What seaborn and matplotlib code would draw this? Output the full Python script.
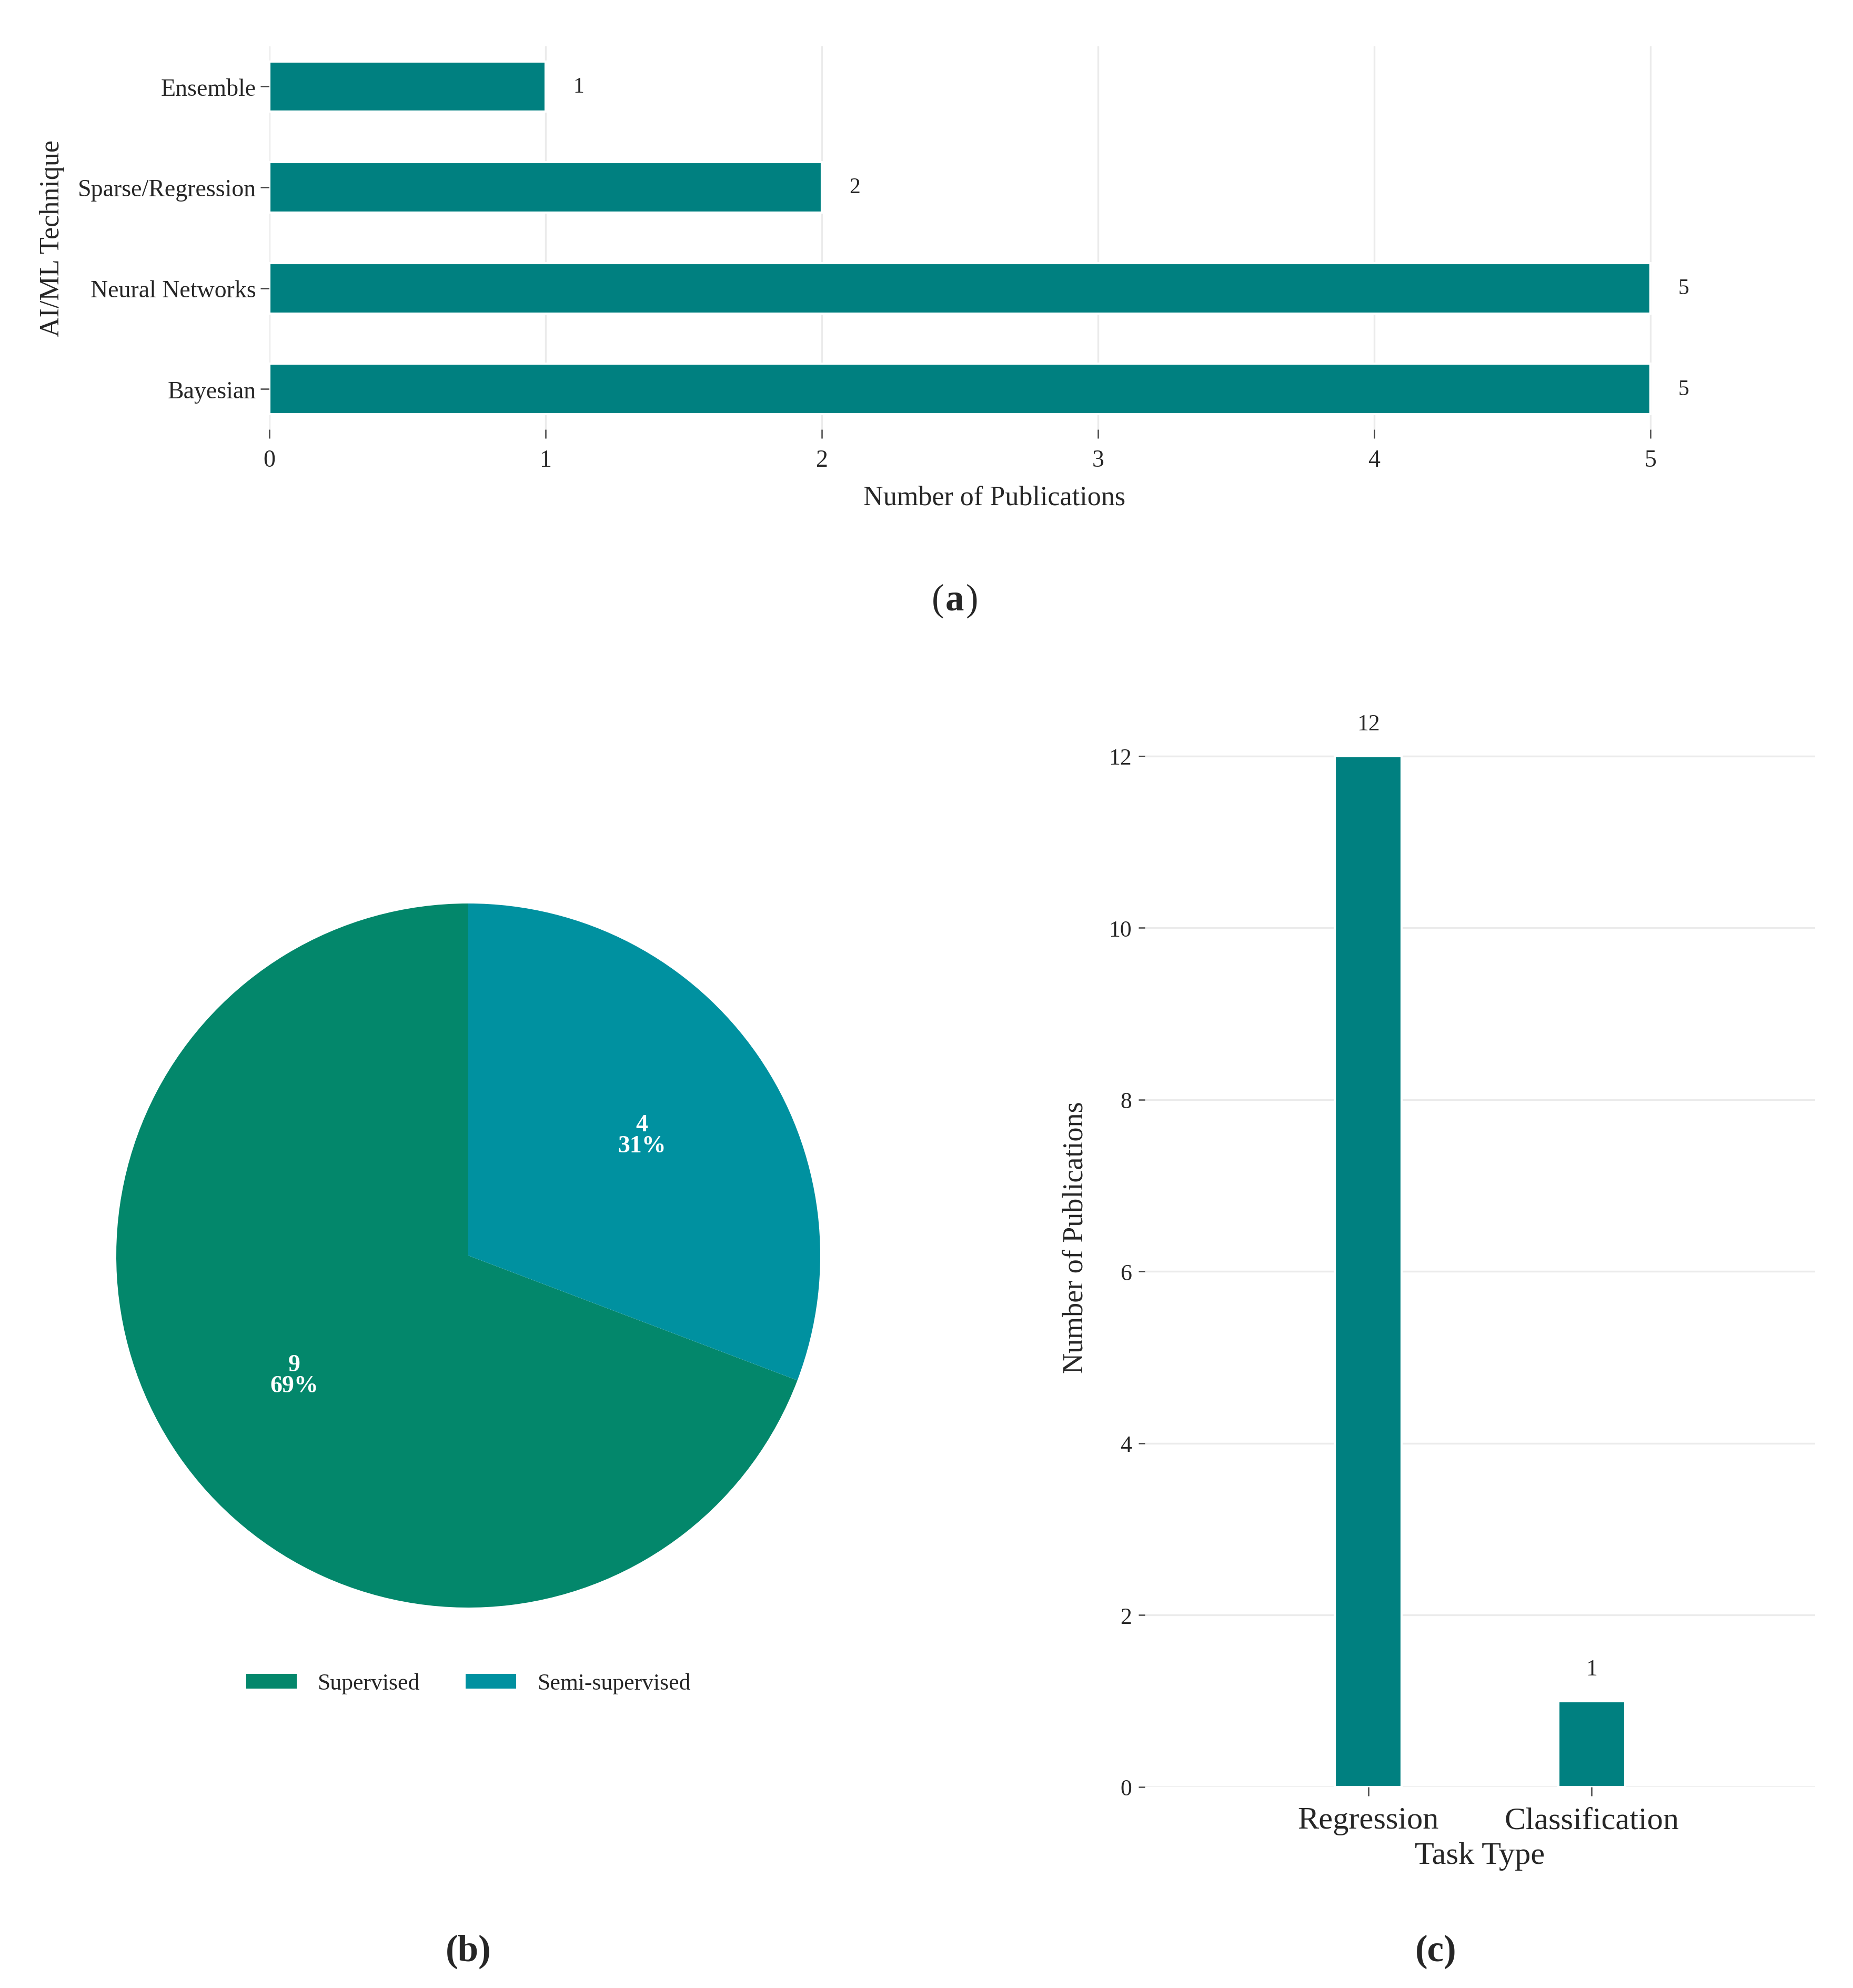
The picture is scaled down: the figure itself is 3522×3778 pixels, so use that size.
import numpy as np
import pandas as pd
import matplotlib
matplotlib.use("Agg")
import matplotlib.pyplot as plt
import seaborn as sns

# Data
techniques = ["Ensemble", "Sparse/Regression", "Neural Networks", "Bayesian"]
tech_counts = [1, 2, 5, 5]

learning_types = ["Supervised", "Semi-supervised"]
learning_counts = [9, 4]

task_types = ["Regression", "Classification"]
task_counts = [12, 1]

teal = "#008080"
pie_colors = ["#03876B", "#0091A0"]

sns.set_theme(style="white")
plt.rcParams["font.family"] = ["Liberation Serif", "DejaVu Serif"]
plt.rcParams["axes.grid"] = False

fig = plt.figure(figsize=(3522 / 300, 3779 / 300), dpi=300)
fig.patch.set_facecolor("white")

# (a) horizontal bars
df_a = pd.DataFrame({"Technique": techniques, "Count": tech_counts})
ax_a = fig.add_axes([0.1454, 0.7838, 0.7825, 0.1927])
sns.barplot(data=df_a, x="Count", y="Technique", color=teal, width=0.5,
            saturation=1, ax=ax_a, zorder=2)
ax_a.set_xlim(0, 5.25)
ax_a.set_ylim(3.4, -0.4)
ax_a.set_xticks(range(6))
ax_a.xaxis.grid(True, color="#EBEBEB", linewidth=0.8, zorder=0)
ax_a.set_axisbelow(True)
for s in ax_a.spines.values():
    s.set_visible(False)
ax_a.tick_params(axis="both", length=4, width=0.6, color="#444444",
                 labelsize=11, bottom=True, left=True)
ax_a.tick_params(axis="x", pad=5)
ax_a.tick_params(axis="y", pad=2)
ax_a.set_xlabel("Number of Publications", fontsize=12.5, labelpad=6)
ax_a.set_ylabel("AI/ML Technique", fontsize=12.5, labelpad=6)
for i, v in enumerate(tech_counts):
    ax_a.text(v + 0.12, i, str(v), va="center", ha="center", fontsize=10)

# (b) pie
ax_b = fig.add_axes([0.06275, 0.1913, 0.3799, 0.3541])
wedges, _ = ax_b.pie(learning_counts, colors=pie_colors, startangle=90,
                     counterclock=True, radius=1,
                     wedgeprops={"linewidth": 0, "edgecolor": "none"})
total = sum(learning_counts)
for w, v in zip(wedges, learning_counts):
    mid = np.deg2rad((w.theta1 + w.theta2) / 2)
    ax_b.text(0.6 * np.cos(mid), 0.6 * np.sin(mid),
              f"{v}\n{round(100 * v / total)}%", ha="center", va="center",
              color="white", fontsize=11, fontweight="bold", linespacing=0.95)
ax_b.set_xlim(-1, 1)
ax_b.set_ylim(-1, 1)
ax_b.set_aspect("equal")
ax_b.axis("off")
fig.legend(wedges, learning_types, loc="center", bbox_to_anchor=(0.2527, 0.1532),
           ncol=2, frameon=False, fontsize=10.5, handlelength=2.2,
           handleheight=0.6, columnspacing=2.0, handletextpad=0.9)

# (c) vertical bars
df_c = pd.DataFrame({"Task": task_types, "Count": task_counts})
ax_c = fig.add_axes([0.6178, 0.1011, 0.3618, 0.553])
sns.barplot(data=df_c, x="Task", y="Count", color=teal, width=0.3,
            saturation=1, ax=ax_c, zorder=2)
ax_c.set_xlim(-1, 2)
ax_c.set_ylim(0, 12.8)
ax_c.set_yticks(range(0, 13, 2))
ax_c.yaxis.grid(True, color="#EBEBEB", linewidth=0.8, zorder=0)
ax_c.set_axisbelow(True)
for s in ax_c.spines.values():
    s.set_visible(False)
ax_c.tick_params(axis="y", length=3, width=0.6, color="#444444",
                 labelsize=10.5, pad=3, left=True)
ax_c.tick_params(axis="x", length=4, width=0.6, color="#444444",
                 labelsize=14.5, pad=5, bottom=True)
ax_c.set_xlabel("Task Type", fontsize=14.5, labelpad=3)
ax_c.set_ylabel("Number of Publications", fontsize=13, labelpad=9)
for i, v in enumerate(task_counts):
    ax_c.text(i, v + 0.25, str(v), ha="center", va="bottom", fontsize=10.5)

# panel letters
ya = 1 - 1142 / 3779
fig.text(0.5153 - 0.0058, ya, "(", ha="right", va="center", fontsize=17)
fig.text(0.5153, ya, "a", ha="center", va="center", fontsize=17, fontweight="bold")
fig.text(0.5153 + 0.0058, ya, ")", ha="left", va="center", fontsize=17)
for x, letter in [(0.2527, "b"), (0.7748, "c")]:
    fig.text(x, 1 - 3709 / 3779, "(" + letter + ")", ha="center", va="center",
             fontsize=17, fontweight="bold")

fig.savefig("out.png", dpi=300, facecolor="white")
